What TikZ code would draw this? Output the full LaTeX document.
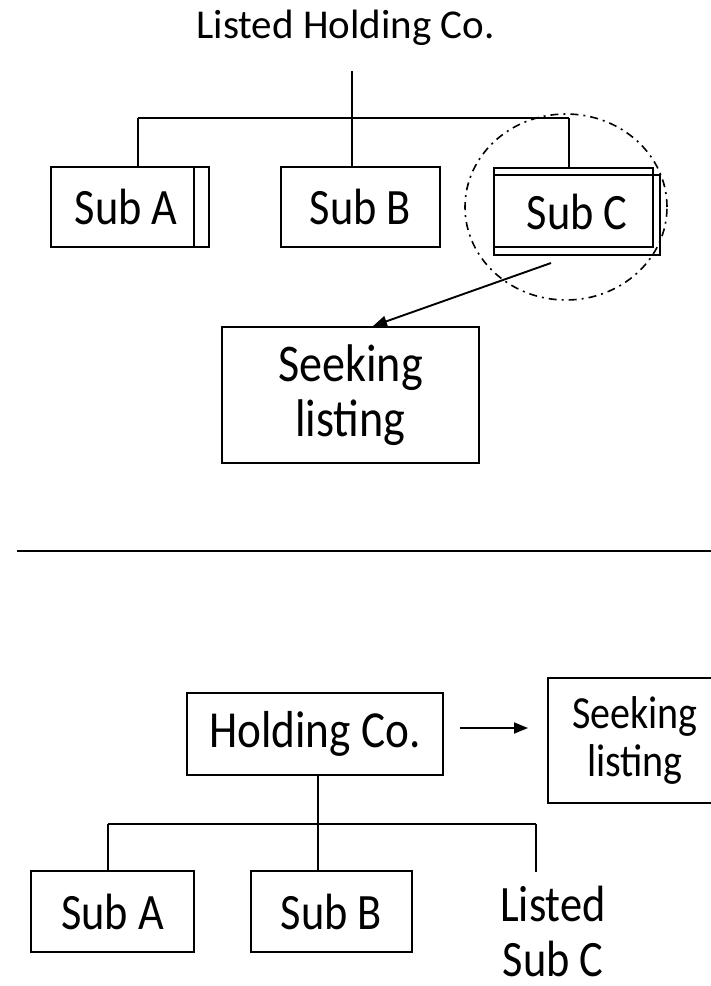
\documentclass[tikz,border=0pt]{standalone}
\usepackage{fontspec}
\setmainfont{Carlito}
\newfontfamily\cf[FakeStretch=0.87]{Carlito}
\usetikzlibrary{arrows.meta}
\begin{document}
\begin{tikzpicture}[x=1pt,y=-1pt,line width=1.9pt,
  box/.style={draw,line width=1.9pt,inner sep=0pt,align=center},
  plain/.style={inner sep=0pt,align=center},
  fsub/.style={font=\cf\fontsize{51}{58}\selectfont},
  fseek/.style={font=\cf\fontsize{53}{58}\selectfont},
  fseeksmall/.style={font=\cf\fontsize{46}{48}\selectfont},
  arr/.style={-{Triangle[length=14pt,width=11pt]}},
  ring/.style={line width=1.6pt,dash pattern=on 8pt off 5pt on 2pt off 5pt}]
\useasboundingbox (0,0) rectangle (711,986);
\clip (0,0) rectangle (711,986);
% ---------- top part ----------
\node[plain,anchor=base,font=\fontsize{41}{41}\selectfont] (title) at (345.5,38) {Listed Holding Co.};
\node[box,fsub,minimum width=158pt,minimum height=80pt] (subA) at (130,207) {\hspace*{-8pt}Sub A};
\draw (194,167) -- (194,247);
\node[box,fsub,minimum width=159pt,minimum height=80pt] (subB) at (360.5,207) {Sub B};
\node[plain,fsub,minimum width=166pt,minimum height=87pt] (subC) at (577,211.5) {Sub C};
\draw (494,168) rectangle (653,247);
\draw (494,175) rectangle (660,255);
\coordinate (top) at (352,71);
\coordinate (barL) at (138,118);
\coordinate (barR) at (569,118);
\draw (barL) -- (barR);
\draw (top) -- (top |- subB.north);
\draw (barL) -- (barL |- subA.north);
\draw (barR) -- (barR |- subC.north);
\draw[ring] (566,207) ellipse [x radius=101pt,y radius=93pt];
\node[box,fseek,minimum width=257pt,minimum height=136pt] (seek1) at (350.5,395) {\raisebox{-3pt}{Seeking}\\listing};
\coordinate (c1) at (551,263);
\draw[arr] (c1) -- ([xshift=22.5pt]seek1.north);
% ---------- separator ----------
\coordinate (sepL) at (17,551);
\coordinate (sepR) at (711,551);
\draw (sepL) -- (sepR);
% ---------- bottom part ----------
\node[box,font=\cf\fontsize{52}{58}\selectfont,minimum width=256pt,minimum height=82pt] (hold) at (315,734) {Holding Co.};
\node[box,fseeksmall,minimum width=220pt,minimum height=125pt] (seek2) at (658,740.5) {Seeking\hspace*{46pt}\\listing\hspace*{46pt}};
\coordinate (a1) at (460,728);
\coordinate (a2) at (528,728);
\draw[arr] (a1) -- (a2);
\node[box,fsub,minimum width=163pt,minimum height=81pt] (subA2) at (112.5,911.5) {Sub A};
\node[box,fsub,minimum width=161pt,minimum height=81pt] (subB2) at (331.5,911.5) {Sub B};
\node[plain,font=\cf\fontsize{51}{55}\selectfont] (listed) at (553,931) {Listed\\Sub C};
\coordinate (bL) at (108,824);
\coordinate (bR) at (536,824);
\coordinate (lend) at (536,872);
\draw (bL) -- (bR);
\draw ([xshift=3pt]hold.south) -- ([xshift=3pt]hold.south |- subB2.north);
\draw (bL) -- (bL |- subA2.north);
\draw (bR) -- (lend);
\end{tikzpicture}
\end{document}
